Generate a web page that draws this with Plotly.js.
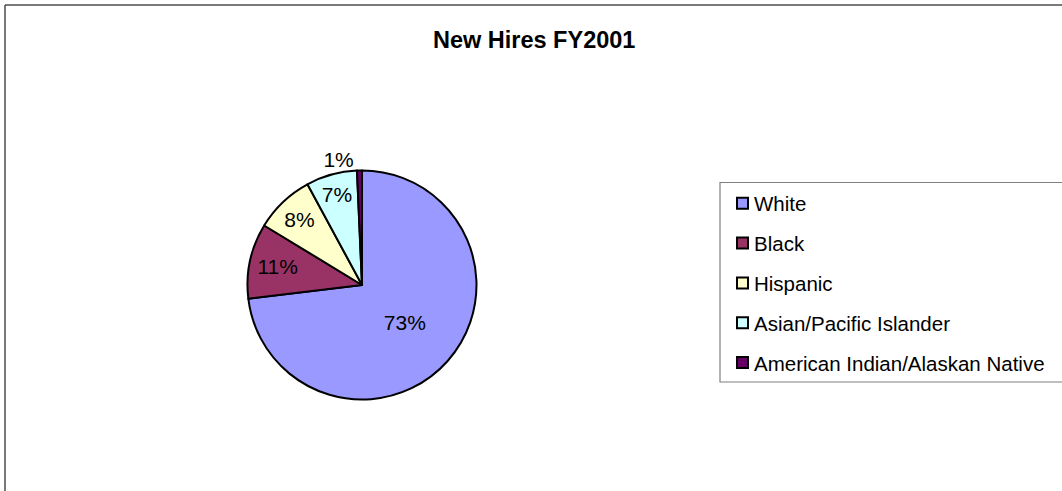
<!DOCTYPE html>
<html>
<head>
<meta charset="utf-8">
<script src="https://cdn.plot.ly/plotly-3.0.1.min.js"></script>
<style>
html, body { margin: 0; padding: 0; background: #ffffff; }
#chart { width: 1062px; height: 491px; }
</style>
</head>
<body>
<div id="chart"></div>
<script>
// ---- data ----
var categories = ["White", "Black", "Hispanic", "Asian/Pacific Islander", "American Indian/Alaskan Native"];
var shares = [73.1, 10.6, 8.4, 7.2, 0.7];
var sliceColors = ["#9999FF", "#993366", "#FFFFCC", "#CCFFFF", "#660066"];
var chartTitle = "New Hires FY2001";

// ---- layout helpers (pixel -> paper) ----
var W = 1062, H = 491;
function px(x) { return x / W; }
function py(y) { return 1 - y / H; }

var FONT = "Liberation Sans, Arial, Helvetica, sans-serif";

var textPositions = categories.map(function (c, i) { return shares[i] < 2 ? "outside" : "inside"; });

var trace = {
  type: "pie",
  labels: categories,
  values: shares,
  sort: false,
  direction: "clockwise",
  rotation: 0,
  marker: { colors: sliceColors, line: { color: "#000000", width: 2 } },
  texttemplate: "%{percent:.0%}",
  textposition: textPositions,
  insidetextorientation: "horizontal",
  textfont: { family: FONT, size: 21, color: "#000000" },
  insidetextfont: { family: FONT, size: 21, color: "#000000" },
  outsidetextfont: { family: FONT, size: 21, color: "#000000" },
  hoverinfo: "label+percent",
  showlegend: false,
  domain: { x: [px(247.5), px(476.5)], y: [py(399.5), py(170.5)] }
};

// ---- custom legend built from the category arrays ----
var shapes = [
  // chart area border (top & left visible)
  { type: "line", xref: "paper", yref: "paper", x0: px(5), x1: px(1070), y0: py(5), y1: py(5), line: { color: "#4d4d4d", width: 1.5 } },
  { type: "line", xref: "paper", yref: "paper", x0: px(5), x1: px(5), y0: py(5), y1: py(500), line: { color: "#4d4d4d", width: 1.5 } },
  // legend box
  { type: "rect", xref: "paper", yref: "paper", x0: px(720), x1: px(1075), y0: py(182.5), y1: py(382), line: { color: "#808080", width: 1.2 }, fillcolor: "rgba(0,0,0,0)" }
];
var annotations = [];
var legTop = 203.3, legStep = 39.8;
categories.forEach(function (name, i) {
  var yc = legTop + i * legStep;
  shapes.push({
    type: "rect", xref: "paper", yref: "paper",
    x0: px(737), x1: px(748), y0: py(yc + 5.5), y1: py(yc - 5.5),
    fillcolor: sliceColors[i], line: { color: "#000000", width: 2 }
  });
  annotations.push({
    xref: "paper", yref: "paper", x: px(752), y: py(yc + 0.5),
    xanchor: "left", yanchor: "middle", showarrow: false,
    text: name, font: { family: FONT, size: 20.5, color: "#000000" }
  });
});

var layout = {
  width: W, height: H,
  margin: { l: 0, r: 0, t: 0, b: 0 },
  paper_bgcolor: "#ffffff",
  plot_bgcolor: "#ffffff",
  showlegend: false,
  title: {
    text: chartTitle,
    x: 0.503, xanchor: "center",
    y: py(40), yanchor: "middle",
    font: { family: FONT, size: 23.5, color: "#000000", weight: 700 }
  },
  shapes: shapes,
  annotations: annotations
};

Plotly.newPlot("chart", [trace], layout, { displayModeBar: false, staticPlot: true });
</script>
</body>
</html>
